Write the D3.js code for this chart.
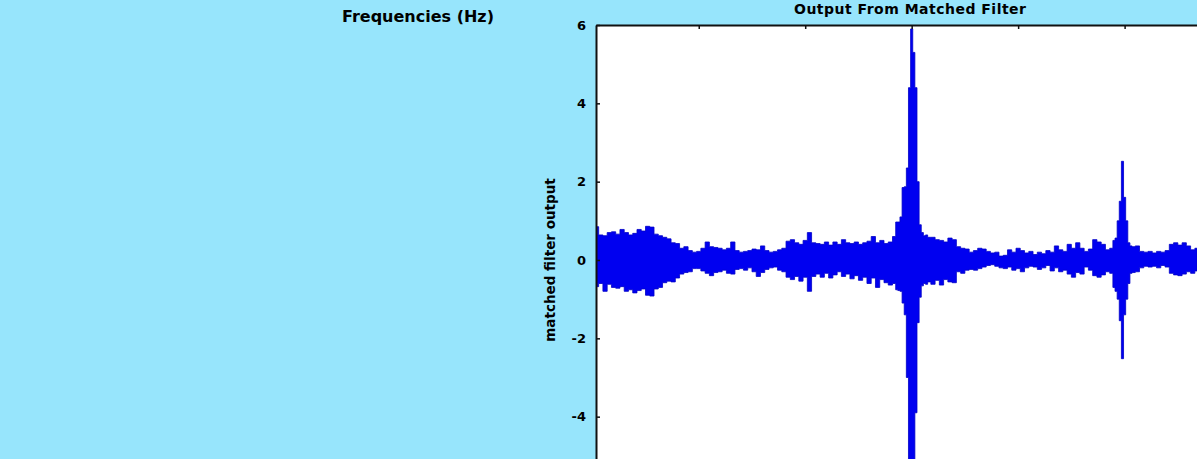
<!DOCTYPE html>
<html>
<head>
<meta charset="utf-8">
<script src="https://cdn.jsdelivr.net/npm/d3@7"></script>
<style>
  html, body { margin: 0; padding: 0; background: #97e5fc; overflow: hidden; }
  svg { display: block; }
  text { font-family: 'DejaVu Sans', sans-serif; font-weight: bold; fill: #000; }
</style>
</head>
<body>
<div class="chart"></div>
<script>
/* Chart data
--------------------------------------------------- */
const chartTitle = 'Output From Matched Filter';
const yAxisTitle = 'matched filter output';
const prevAxisTitle = 'Frequencies (Hz)';

const yTickValues = [-4, -2, 0, 2, 4, 6];
const xTickValues = [1, 2, 3, 4, 5];

// time of each envelope sample
const timeValues = [
  0.04, 0.08, 0.12, 0.16, 0.20, 0.24, 0.28, 0.32, 0.36, 0.40,
  0.44, 0.48, 0.52, 0.56, 0.60, 0.64, 0.68, 0.72, 0.76, 0.80,
  0.84, 0.88, 0.92, 0.96, 1.00, 1.04, 1.08, 1.12, 1.16, 1.20,
  1.24, 1.28, 1.32, 1.36, 1.40, 1.44, 1.48, 1.52, 1.56, 1.60,
  1.64, 1.68, 1.72, 1.76, 1.80, 1.84, 1.88, 1.92, 1.96, 2.00,
  2.04, 2.08, 2.12, 2.16, 2.20, 2.24, 2.28, 2.32, 2.36, 2.40,
  2.44, 2.48, 2.52, 2.56, 2.60, 2.64, 2.68, 2.72, 2.76, 2.80,
  2.84, 2.86, 2.88, 2.90, 2.92, 2.94, 2.96, 2.98, 3.00, 3.02,
  3.04, 3.06, 3.08, 3.10, 3.12, 3.14, 3.16,
  3.20, 3.24, 3.28, 3.32, 3.36, 3.40, 3.44, 3.48, 3.52, 3.56,
  3.60, 3.64, 3.68, 3.72, 3.76, 3.80, 3.84, 3.88, 3.92, 3.96,
  4.00, 4.04, 4.08, 4.12, 4.16, 4.20, 4.24, 4.28, 4.32, 4.36,
  4.40, 4.44, 4.48, 4.52, 4.56, 4.60, 4.64, 4.68, 4.72, 4.76,
  4.80, 4.84, 4.88,
  4.90, 4.92, 4.94, 4.96, 4.98, 5.00, 5.02, 5.04, 5.06, 5.08,
  5.12, 5.16, 5.20, 5.24, 5.28, 5.32, 5.36, 5.40, 5.44, 5.48,
  5.52, 5.56, 5.60, 5.64, 5.68,
];

// upper edge of the filter output band
const upperEnvelope = [
  0.85, 0.64, 0.62, 0.70, 0.72, 0.66, 0.78, 0.70, 0.64, 0.68,
  0.78, 0.74, 0.86, 0.84, 0.66, 0.62, 0.58, 0.54, 0.44, 0.42,
  0.30, 0.34, 0.24, 0.20, 0.22, 0.30, 0.46, 0.34, 0.32, 0.30,
  0.26, 0.30, 0.46, 0.24, 0.20, 0.22, 0.24, 0.28, 0.26, 0.36,
  0.24, 0.20, 0.22, 0.26, 0.30, 0.48, 0.52, 0.44, 0.40, 0.50,
  0.70, 0.44, 0.42, 0.40, 0.46, 0.38, 0.46, 0.40, 0.52, 0.44,
  0.42, 0.46, 0.40, 0.44, 0.48, 0.60, 0.44, 0.50, 0.42, 0.46,
  0.60, 0.97, 0.97, 1.10, 1.85, 1.87, 2.35, 4.40, 5.90, 5.30,
  4.40, 2.00, 0.90, 0.70, 0.62, 0.64, 0.58,
  0.58, 0.52, 0.50, 0.46, 0.56, 0.52, 0.34, 0.30, 0.28, 0.20,
  0.24, 0.30, 0.28, 0.22, 0.18, 0.20, 0.10, 0.12, 0.26, 0.20,
  0.30, 0.24, 0.18, 0.22, 0.14, 0.20, 0.16, 0.24, 0.20, 0.36,
  0.26, 0.22, 0.40, 0.30, 0.44, 0.30, 0.22, 0.28, 0.52, 0.46,
  0.40, 0.26, 0.30,
  0.50, 0.56, 1.00, 1.50, 2.52, 1.60, 1.00, 0.44, 0.36, 0.34,
  0.36, 0.22, 0.20, 0.22, 0.18, 0.22, 0.20, 0.24, 0.40, 0.44,
  0.38, 0.44, 0.36, 0.26, 0.30,
];

// lower edge of the filter output band
const lowerEnvelope = [
  -0.68, -0.60, -0.80, -0.62, -0.70, -0.72, -0.68, -0.80, -0.76, -0.84,
  -0.78, -0.74, -0.90, -0.92, -0.74, -0.70, -0.58, -0.54, -0.56, -0.46,
  -0.36, -0.32, -0.30, -0.22, -0.22, -0.28, -0.34, -0.40, -0.32, -0.30,
  -0.26, -0.34, -0.36, -0.24, -0.22, -0.26, -0.20, -0.30, -0.42, -0.32,
  -0.24, -0.20, -0.18, -0.26, -0.30, -0.44, -0.50, -0.42, -0.54, -0.44,
  -0.80, -0.42, -0.36, -0.44, -0.34, -0.46, -0.38, -0.30, -0.42, -0.36,
  -0.48, -0.40, -0.52, -0.44, -0.60, -0.46, -0.70, -0.50, -0.58, -0.64,
  -0.60, -0.76, -0.78, -0.80, -1.10, -1.40, -3.00, -6.50, -6.80, -6.50,
  -3.90, -1.60, -0.95, -0.66, -0.60, -0.62, -0.56,
  -0.62, -0.52, -0.64, -0.50, -0.56, -0.58, -0.30, -0.34, -0.26, -0.24,
  -0.26, -0.22, -0.18, -0.14, -0.12, -0.16, -0.20, -0.22, -0.18, -0.26,
  -0.22, -0.30, -0.20, -0.16, -0.18, -0.24, -0.20, -0.14, -0.28, -0.20,
  -0.30, -0.26, -0.36, -0.44, -0.32, -0.36, -0.18, -0.26, -0.40, -0.44,
  -0.38, -0.30, -0.34,
  -0.70, -0.80, -1.00, -1.55, -2.52, -1.40, -1.00, -0.60, -0.34, -0.32,
  -0.30, -0.20, -0.16, -0.18, -0.16, -0.20, -0.14, -0.18, -0.34, -0.38,
  -0.40, -0.36, -0.30, -0.34, -0.28,
];

/* Draw the chart
--------------------------------------------------- */
function drawChart() {
  const width = 1197;
  const height = 459;
  const plot = { left: 596, top: 25, right: 1197, bottom: 495 };

  const data = timeValues.map((t, i) => ({ t, hi: upperEnvelope[i], lo: lowerEnvelope[i] }));

  const x = d3.scaleLinear().domain([0.035, 5.68]).range([plot.left, plot.right]);
  const y = d3.scaleLinear().domain([-6, 6]).range([plot.bottom, plot.top]);

  const svg = d3
    .select('.chart')
    .append('svg')
    .attr('width', width)
    .attr('height', height);

  svg
    .append('rect')
    .attr('x', plot.left)
    .attr('y', plot.top)
    .attr('width', plot.right - plot.left)
    .attr('height', plot.bottom - plot.top)
    .attr('fill', '#fff');

  svg
    .append('clipPath')
    .attr('id', 'plot-clip')
    .append('rect')
    .attr('x', plot.left)
    .attr('y', plot.top)
    .attr('width', plot.right - plot.left)
    .attr('height', plot.bottom - plot.top);

  const band = d3
    .area()
    .curve(d3.curveStep)
    .x(d => x(d.t))
    .y0(d => y(d.lo))
    .y1(d => y(d.hi));

  svg
    .append('path')
    .datum(data)
    .attr('clip-path', 'url(#plot-clip)')
    .attr('fill', '#0000f0')
    .attr('stroke', '#0000c8')
    .attr('stroke-width', 0.8)
    .attr('d', band);

  // top axis: inward ticks only
  svg
    .append('g')
    .attr('transform', 'translate(0,' + plot.top + ')')
    .call(
      d3
        .axisTop(x)
        .tickValues(xTickValues)
        .tickSizeInner(-4)
        .tickSizeOuter(0)
        .tickFormat(''),
    )
    .call(g => g.select('.domain').attr('stroke', '#111').attr('stroke-width', 2));

  // left axis
  svg
    .append('g')
    .attr('transform', 'translate(' + plot.left + ',0)')
    .call(
      d3
        .axisLeft(y)
        .tickValues(yTickValues)
        .tickSizeInner(-4)
        .tickSizeOuter(0)
        .tickPadding(10)
        .tickFormat(d => String(d)),
    )
    .call(g => g.select('.domain').attr('stroke', '#111').attr('stroke-width', 2))
    .call(g =>
      g
        .selectAll('.tick text')
        .attr('font-size', 13)
        .attr('font-family', "'DejaVu Sans', sans-serif")
        .attr('font-weight', 'bold')
        .attr('fill', '#000'),
    );

  svg.selectAll('.tick line').attr('stroke', '#111').attr('stroke-width', 1.5);

  svg
    .append('text')
    .attr('x', 910)
    .attr('y', 14)
    .attr('text-anchor', 'middle')
    .attr('font-size', 14)
    .attr('textLength', 232)
    .attr('lengthAdjust', 'spacing')
    .text(chartTitle);

  svg
    .append('text')
    .attr('x', 418)
    .attr('y', 22)
    .attr('text-anchor', 'middle')
    .attr('font-size', 16)
    .text(prevAxisTitle);

  svg
    .append('text')
    .attr('transform', 'translate(555,' + y(0) + ') rotate(-90)')
    .attr('text-anchor', 'middle')
    .attr('font-size', 13.5)
    .text(yAxisTitle);
}

drawChart();
</script>
</body>
</html>
